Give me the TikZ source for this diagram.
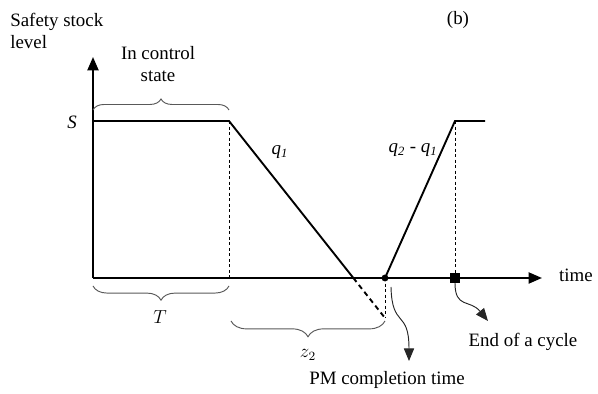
\documentclass[tikz,border=0pt]{standalone}
\usepackage{fontspec}
\setmainfont{Liberation Serif}
\usetikzlibrary{arrows.meta,decorations.pathreplacing}

\begin{document}
\begin{tikzpicture}[x=0.635pt,y=0.635pt,>={Triangle[length=8.5pt,width=7pt]},
  axis/.style={line width=1.3pt},
  prof/.style={line width=1.2pt},
  guide/.style={line width=0.55pt,dash pattern=on 2pt off 1.5pt},
  brc/.style={decorate,draw=gray!70!black,line width=0.6pt},
  lbl/.style={font=\fontsize{12}{14}\selectfont,inner sep=1pt},
  ptr/.style={->,draw=black!85,line width=0.6pt,>={Triangle[length=8pt,width=6.5pt]}}]
\useasboundingbox (0,0) rectangle (598,394);
% axes and profile points
\coordinate (O) at (93,116);
\coordinate (Ytop) at (93,337);
\coordinate (Xend) at (542,116);
\coordinate (Sl) at (93,273);
\coordinate (A) at (229,273);
\coordinate (B) at (229,116);
\coordinate (C) at (385,116);
\coordinate (D) at (385,76);
\coordinate (F) at (455,273);
\coordinate (G) at (485,273);
\coordinate (H) at (455,116);
\coordinate (X) at (intersection of A--D and O--Xend);
\draw[axis,->] (O) -- (Ytop);
\draw[axis,->] (O) -- (Xend);
\draw[prof] (Sl) -- (A) -- (X);
\draw[prof,dash pattern=on 3.2pt off 2.4pt] (X) -- (D);
\draw[prof] (C) -- (F) -- (G);
\draw[guide] (A) -- (B);
\draw[guide] (F) -- (H);
\draw[guide] (C) -- (D);
\fill (C) circle (2.2pt);
\node[fill,minimum size=6pt,inner sep=0pt] (sq) at (H) {};
% braces
\draw[brc,decoration={brace,amplitude=7pt}] (93,284) -- (229,284);
\draw[brc,decoration={brace,amplitude=9pt}] (229,108) -- (93,108);
\draw[brc,decoration={brace,amplitude=10pt}] (385,73) -- (231,73);
% labels
\node[lbl,anchor=north west,align=left,inner sep=0pt] (ylab) at (10,381) {Safety stock\\level};
\node[lbl] (b) at (458,374) {(b)};
\node[lbl] (s) at (72,272) {\textit{S}};
\node[lbl,align=center] (ctrl) at (158,330) {In control\\state};
\node[lbl] (q1) at (280,242) {\textit{q\textsubscript{1}}};
\node[lbl] (q21) at (413,244) {\textit{q\textsubscript{2} - q\textsubscript{1}}};
\node[lbl] (time) at (576,119) {time};
\node[lbl] (T) at (160,77) {$T$};
\node[lbl] (z2) at (308,39) {$z_2$};
\node[lbl] (pm) at (387,14) {PM completion time};
\node[lbl] (eoc) at (523,52) {End of a cycle};
% pointers
\coordinate (pmtip) at (409,33);
\coordinate (eoctip) at (488,73);
\draw[ptr] (391,107) .. controls (392,65) and (409,85) .. (pmtip);
\draw[ptr] (sq.south) .. controls (455,85) and (470,95) .. (eoctip);
\end{tikzpicture}
\end{document}
